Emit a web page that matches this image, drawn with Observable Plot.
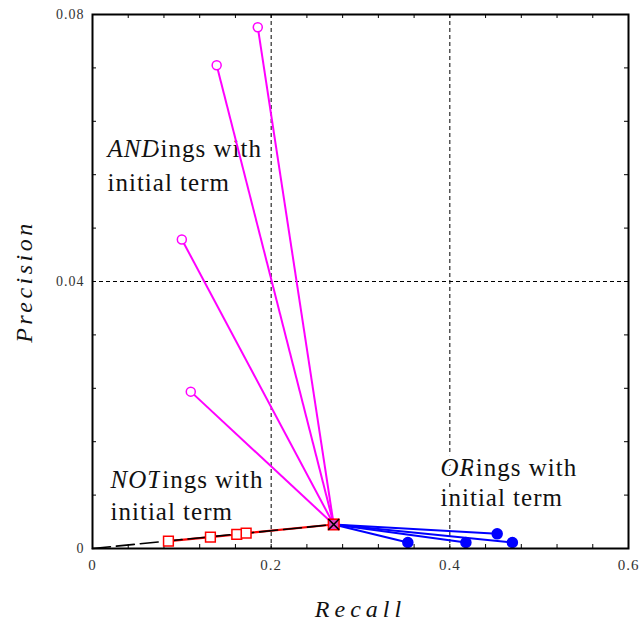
<!DOCTYPE html>
<html><head><meta charset="utf-8">
<script src="https://cdn.jsdelivr.net/npm/d3@7"></script>
<script src="https://cdn.jsdelivr.net/npm/@observablehq/plot@0.6"></script>
<style>body{margin:0;background:#fff}</style>
</head><body><div id="chart"></div>
<script>
// ---- data ----
const centerRecall = [0.27];
const centerPrecision = [0.0036];
const originRecall = [0, 0.27];
const originPrecision = [0, 0.0036];
const andRecall = [0.185, 0.139, 0.100, 0.110];
const andPrecision = [0.0781, 0.0724, 0.0463, 0.0235];
const orRecall = [0.353, 0.418, 0.453, 0.470];
const orPrecision = [0.0009, 0.0009, 0.0022, 0.0009];
const notRecall = [0.085, 0.132, 0.1615, 0.172, 0.27];
const notPrecision = [0.0011, 0.0017, 0.0021, 0.0023, 0.0036];
const xTickLabels = [0, 0.2, 0.4, 0.6];
const yTickLabels = [0, 0.04, 0.08];
const xMinorTicks = [0, 0.04, 0.08, 0.12, 0.16, 0.2, 0.24, 0.28, 0.32, 0.36, 0.4, 0.44, 0.48, 0.52, 0.56, 0.6];
const yMinorTicks = [0, 0.008, 0.016, 0.024, 0.032, 0.04, 0.048, 0.056, 0.064, 0.072, 0.08];
const xGrid = [0.2, 0.4];
const yGrid = [0.04];
const annoText = ["ANDings with", "initial term", "NOTings with", "initial term", "ORings with", "initial term"];
const annoRecall = [0.0168, 0.0168, 0.0202, 0.0202, 0.3896, 0.3896];
const annoPrecision = [0.0598, 0.0548, 0.0103, 0.0055, 0.0121, 0.0075];

const W = 640, H = 627, mL = 92, mR = 12, mT = 14, mB = 79;
const pW = W - mL - mR, pH = H - mT - mB;

const center = centerRecall.map((r, i) => ({r, p: centerPrecision[i]}));
const origin = originRecall.map((r, i) => ({r, p: originPrecision[i]}));
const ands = andRecall.map((r, i) => ({r, p: andPrecision[i], r2: centerRecall[0], p2: centerPrecision[0]}));
const ors = orRecall.map((r, i) => ({r, p: orPrecision[i], r2: centerRecall[0], p2: centerPrecision[0]}));
const nots = notRecall.map((r, i) => ({r, p: notPrecision[i]}));
const annos = annoText.map((t, i) => ({t, r: annoRecall[i], p: annoPrecision[i]}));
const fmt = d => String(d);

const plot = Plot.plot({
  width: W, height: H,
  marginLeft: mL, marginRight: mR, marginTop: mT, marginBottom: mB,
  x: {domain: [0, 0.6]},
  y: {domain: [0, 0.08]},
  style: {fontFamily: "'Liberation Serif', 'Times New Roman', serif", background: "#fff", color: "#000"},
  marks: [
    Plot.ruleX(xGrid, {stroke: "#000", strokeWidth: 1, strokeDasharray: "4,3"}),
    Plot.ruleY(yGrid, {stroke: "#000", strokeWidth: 1, strokeDasharray: "4,3"}),
    Plot.ruleX(xMinorTicks, {insetTop: pH - 4, stroke: "#000"}),
    Plot.ruleX(xMinorTicks, {insetBottom: pH - 4, stroke: "#000"}),
    Plot.ruleY(yMinorTicks, {insetRight: pW - 4, stroke: "#000"}),
    Plot.ruleY(yMinorTicks, {insetLeft: pW - 4, stroke: "#000"}),
    Plot.axisX(xTickLabels, {tickSize: 0, tickPadding: 11, fontSize: 15, fill: "#333", label: null, tickFormat: fmt}),
    Plot.axisY(yTickLabels, {tickSize: 0, tickPadding: 8, fontSize: 14, fill: "#333", label: null, tickFormat: fmt}),
    Plot.text(annos, {x: "r", y: "p", text: "t", textAnchor: "start", fontSize: 25, fill: "#111",
      stroke: "#fff", strokeWidth: 8, paintOrder: "stroke"}),
    Plot.link(ands, {x1: "r", y1: "p", x2: "r2", y2: "p2", stroke: "#ff00ff", strokeWidth: 2}),
    Plot.line(nots, {x: "r", y: "p", stroke: "#ff0000", strokeWidth: 2.2}),
    Plot.line(origin, {x: "r", y: "p", stroke: "#000", strokeWidth: 1.6, strokeDasharray: "18,6"}),
    Plot.link(ors, {x1: "r", y1: "p", x2: "r2", y2: "p2", stroke: "#0000ff", strokeWidth: 2}),
    Plot.dot(ands, {x: "r", y: "p", r: 4.5, stroke: "#ff00ff", strokeWidth: 1.5, fill: "#fff"}),
    Plot.dot(ors, {x: "r", y: "p", r: 5, fill: "#0000ff", stroke: "#0000ff"}),
    Plot.dot(nots, {x: "r", y: "p", symbol: "square", r: 5.5, stroke: "#ff0000", strokeWidth: 1.5, fill: "#fff"}),
    Plot.dot(center, {x: "r", y: "p", symbol: "square", r: 6, stroke: "#ff0000", strokeWidth: 1.5, fill: "#e040c0"}),
    Plot.dot(center, {x: "r", y: "p", symbol: "times", r: 5, stroke: "#000", strokeWidth: 1.5}),
    Plot.frame({stroke: "#000", strokeWidth: 2}),
    Plot.text(["Precision"], {frameAnchor: "left", dx: -68, rotate: -90, textAnchor: "middle", lineAnchor: "middle", fontSize: 24, fontStyle: "italic", fill: "#111"}),
    Plot.text(["Recall"], {frameAnchor: "bottom", dy: 61, textAnchor: "middle", lineAnchor: "middle", fontSize: 24, fontStyle: "italic", fill: "#111"})
  ]
});

const ns = "http://www.w3.org/2000/svg";
plot.querySelectorAll("text, tspan").forEach(t => {
  if (t.children.length) return;
  const s = t.textContent;
  const m = s.match(/^(AND|NOT|OR)(ings with)$/);
  if (m) {
    t.textContent = "";
    const a = document.createElementNS(ns, "tspan");
    a.setAttribute("font-style", "italic");
    a.textContent = m[1];
    t.append(a, m[2]);
  }
  if (m || s === "initial term") t.setAttribute("letter-spacing", "1");
  if (s === "Precision") t.setAttribute("letter-spacing", "3.5");
  if (s === "Recall") t.setAttribute("letter-spacing", "5");
  if (/^0(\.\d+)?$/.test(s)) t.setAttribute("letter-spacing", "1");
});
document.getElementById("chart").append(plot);
</script>
</body></html>
